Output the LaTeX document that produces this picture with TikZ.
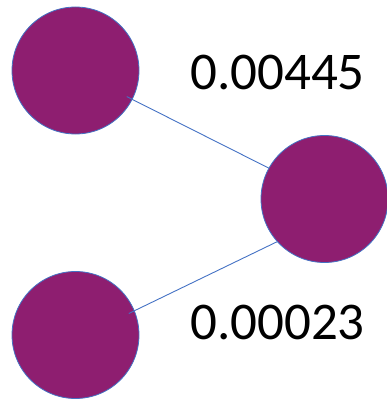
\documentclass[tikz,border=0pt]{standalone}
\usepackage{fontspec}
\setmainfont{Carlito}
\usetikzlibrary{calc}
\definecolor{nodefill}{RGB}{142,30,112}
\definecolor{edgeblue}{RGB}{68,114,196}
\tikzset{
  vertex/.style={circle, fill=nodefill, draw=edgeblue, line width=0.8pt, minimum size=127pt, inner sep=0pt},
  link/.style={draw=edgeblue, line width=0.9pt},
  weight/.style={inner sep=0pt, anchor=center, font=\fontsize{53}{60}\selectfont}
}
\begin{document}
\begin{tikzpicture}[x=1pt, y=-1pt]
\useasboundingbox (0,0) rectangle (386,401);
\node[vertex] (a) at (75.5,70.5) {};
\node[vertex] (c) at (324.5,199) {};
\node[vertex] (b) at (75.5,335) {};
\draw[link] ($(a.center)!0.9!(a.-27.7)$) -- (c.151.8);
\draw[link] ($(b.center)!0.9!(b.22.7)$) -- (c.222.5);
\node[weight] (w1) at (277.5,72.5) {0.00445};
\node[weight] (w2) at (277.5,322.5) {0.00023};
\end{tikzpicture}
\end{document}
